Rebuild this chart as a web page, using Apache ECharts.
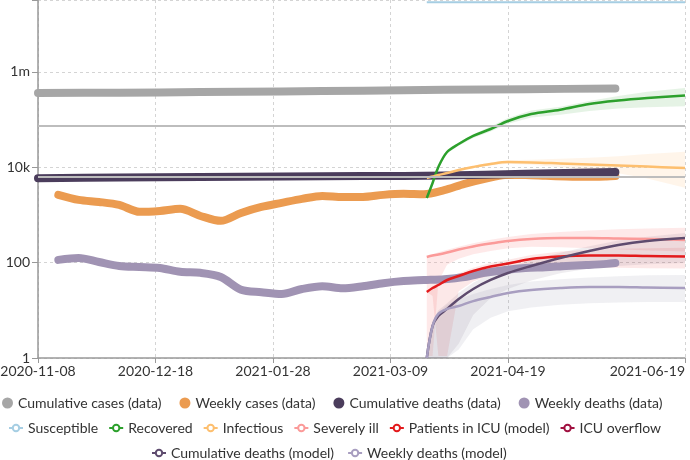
<!DOCTYPE html>
<html><head><meta charset="utf-8">
<script src="https://cdn.jsdelivr.net/npm/echarts@6/dist/echarts.min.js"></script>
<style>html,body{margin:0;padding:0;background:#fff}#c{width:690px;height:460px}</style>
</head><body><div id="c"></div>
<script>
// ---------- data ----------
const xMin = '2020-11-08T00:00:00Z';
const xMax = '2021-06-19T00:00:00Z';
const xTickTimes = ['2020-11-08T00:00:00Z','2020-12-18T12:00:00Z','2021-01-28T00:00:00Z','2021-03-09T12:00:00Z','2021-04-19T00:00:00Z','2021-06-19T00:00:00Z'];
const yMin = 1, yMax = 3.2e7;

const cumDates = ['2020-11-08','2020-12-06','2021-01-03','2021-01-31','2021-02-28','2021-03-28','2021-04-25','2021-05-26'];
const cumulativeCases = [359000, 365000, 375000, 388000, 400000, 418000, 432000, 447000];
const cumulativeDeaths = [5900, 6050, 6200, 6350, 6500, 6700, 7300, 7900];

const weekDates = ['2020-11-15','2020-11-22','2020-11-29','2020-12-06','2020-12-13','2020-12-20','2020-12-27','2021-01-03','2021-01-10','2021-01-17','2021-01-24','2021-01-31','2021-02-07','2021-02-14','2021-02-21','2021-02-28','2021-03-07','2021-03-14','2021-03-21','2021-03-28','2021-04-04','2021-04-11','2021-04-18','2021-04-25','2021-05-02','2021-05-09','2021-05-16','2021-05-23','2021-05-26'];
const weeklyCases = [2630, 2060, 1870, 1620, 1160, 1210, 1340, 950, 750, 1100, 1470, 1790, 2170, 2500, 2380, 2380, 2630, 2760, 2700, 3300, 4470, 5680, 6900, 6900, 6600, 6400, 6300, 6400, 6500];
const weeklyDeaths = [114, 125, 103, 85, 81, 77, 64, 61, 50, 27, 24, 22, 28, 32, 29, 32, 37, 41, 43, 45, 50, 61, 70, 77, 80, 85, 89, 94, 98];

const refLines = [73000, 6350];

const modelDates = ['2021-03-22','2021-03-24','2021-03-26','2021-03-29','2021-04-02','2021-04-07','2021-04-13','2021-04-19','2021-04-27','2021-05-07','2021-05-17','2021-05-27','2021-06-06','2021-06-19'];
const susceptible = [28800000, 28800000, 28790000, 28780000, 28770000, 28750000, 28730000, 28710000, 28690000, 28670000, 28650000, 28630000, 28620000, 28600000];
const recovered   = [2261, 4666, 10100, 20800, 30600, 45100, 63200, 93100, 130000, 160000, 211000, 250000, 282000, 319000];
const recoveredLo = [2261, 4500, 9600, 19500, 28000, 41000, 56000, 81000, 110000, 125000, 150000, 170000, 180000, 190000];
const recoveredHi = [2261, 4850, 10600, 22000, 33000, 49000, 71000, 107000, 155000, 185000, 245000, 310000, 380000, 460000];
const infectious   = [5940, 6390, 6860, 7550, 8730, 10100, 11700, 12800, 12600, 12000, 11400, 10900, 10300, 9600];
const infectiousLo = [5940, 6300, 6700, 7300, 8400, 9600, 10900, 11800, 11200, 10000, 8700, 7500, 5800, 3700];
const infectiousHi = [5940, 6480, 7000, 7800, 9100, 10700, 12500, 14000, 14300, 15000, 15800, 17000, 18800, 21000];
const severelyIll   = [131, 141, 148, 163, 188, 218, 251, 284, 313, 328, 328, 320, 313, 298];
const severelyIllLo = [1.1, 1.1, 40, 90, 120, 150, 175, 200, 215, 210, 200, 190, 180, 170];
const severelyIllHi = [131, 150, 165, 185, 215, 255, 300, 345, 400, 440, 470, 500, 520, 540];
const icu   = [24.2, 29.3, 33.9, 43.2, 52.4, 66.7, 82.8, 95.8, 119, 134, 141, 141, 137, 134];
const icuLo = [24.2, 20, 1.1, 1.1, 25, 40, 55, 65, 75, 80, 80, 78, 76, 75];
const icuHi = [24.2, 32, 38, 49, 60, 78, 98, 115, 145, 170, 185, 195, 200, 205];
const icuOverflow = [];
const cumDeathsModel   = [1, 4.7, 7.6, 10.7, 17.3, 28, 43.2, 60.5, 84.9, 125, 175, 234, 284, 328];
const cumDeathsModelLo = [1, 1, 1, 1, 2, 8, 18, 28, 42, 60, 75, 85, 92, 98];
const cumDeathsModelHi = [1, 6, 10, 14, 23, 38, 58, 80, 112, 160, 220, 290, 350, 418];
const weeklyDeathsModel   = [1, 4.7, 8.4, 10.7, 12.3, 15.6, 19.0, 23.1, 26.7, 29.3, 30.7, 30.7, 30.0, 29.3];
const weeklyDeathsModelLo = [1, 1, 1, 1, 1.5, 4, 7, 9.5, 11.5, 13, 14, 14.5, 15, 15];
const weeklyDeathsModelHi = [1, 5, 9, 13, 17, 22, 28, 34, 40, 45, 49, 52, 54, 55];

const legendRow1 = ['Cumulative cases (data)','Weekly cases (data)','Cumulative deaths (data)','Weekly deaths (data)'];
const legendRow2 = ['Susceptible','Recovered','Infectious','Severely ill','Patients in ICU (model)','ICU overflow'];
const legendRow3 = ['Cumulative deaths (model)','Weekly deaths (model)'];

// ---------- helpers ----------
const T = s => Date.parse(s.length === 10 ? s + 'T00:00:00Z' : s);
const pairs = (dates, vals) => dates.map((d, i) => [T(d), vals[i]]);
const pad = n => (n < 10 ? '0' : '') + n;
const fmtDate = v => { const d = new Date(v); return d.getUTCFullYear() + '-' + pad(d.getUTCMonth() + 1) + '-' + pad(d.getUTCDate()); };
const fmtY = v => { const e = Math.log10(v), r = Math.round(e); if (Math.abs(e - r) > 1e-6) return ''; if (r >= 6) return Math.pow(10, r - 6) + 'm'; if (r >= 3) return Math.pow(10, r - 3) + 'k'; return String(Math.pow(10, r)); };
const FONT = 'Lato';

function band(lo, hi, color) {
  return {
    type: 'custom', name: '_band', silent: true, z: 1, clip: true,
    encode: { x: 0, y: [1, 2] },
    data: modelDates.map((d, i) => [T(d), lo[i], hi[i]]),
    renderItem(params, api) {
      if (params.dataIndex !== 0) return null;
      const pts = [];
      for (let i = 0; i < modelDates.length; i++) pts.push(api.coord([T(modelDates[i]), hi[i]]));
      for (let i = modelDates.length - 1; i >= 0; i--) pts.push(api.coord([T(modelDates[i]), lo[i]]));
      return { type: 'polygon', shape: { points: pts }, style: { fill: color } };
    }
  };
}
function dataLine(name, dates, vals, color, width) {
  return { type: 'line', name, data: pairs(dates, vals), showSymbol: false, symbol: 'circle', smooth: 0.3, z: 2,
    color, lineStyle: { width, color, cap: 'round', join: 'round' }, emphasis: { disabled: true } };
}
function modelLine(name, vals, color, width) {
  return { type: 'line', name, data: pairs(modelDates, vals), showSymbol: false, symbol: 'emptyCircle', smooth: 0.35, z: 3,
    color, lineStyle: { width: width || 2.5, color, join: 'round' }, emphasis: { disabled: true } };
}

const C = {
  cumCases: '#a6a6a6', weekCases: '#eb9b50', cumDeaths: '#4b3d5c', weekDeaths: '#a093b3',
  susc: '#a6cee3', rec: '#2ca02c', inf: '#fdbf6f', sev: '#fb9a99', icu: '#e31a1c', ovf: '#a01040',
  cdm: '#5e4b6e', wdm: '#a89ec0'
};

const legendCommon = { orient: 'horizontal', padding: 0, textStyle: { fontFamily: FONT, fontSize: 14, color: '#333' }, selectedMode: true };

const option = {
  animation: false,
  grid: { left: 38, right: 5, top: 0, bottom: 102, containLabel: false, outerBoundsMode: 'none' },
  legend: [
    Object.assign({}, legendCommon, { data: legendRow1.map(n => ({ name: n, icon: 'circle' })), left: 2, top: 396, itemWidth: 11, itemHeight: 11, itemGap: 18 }),
    Object.assign({}, legendCommon, { data: legendRow2, left: 8, top: 421, itemWidth: 14, itemHeight: 8, itemGap: 10 }),
    Object.assign({}, legendCommon, { data: legendRow3, left: 151, top: 446, itemWidth: 14, itemHeight: 8, itemGap: 13 })
  ],
  xAxis: {
    type: 'value', min: T(xMin), max: T(xMax),
    axisLine: { lineStyle: { color: '#999', width: 1.5 } },
    axisTick: { customValues: xTickTimes.map(T), length: 5, lineStyle: { color: '#999' } },
    axisLabel: { customValues: xTickTimes.map(T), formatter: fmtDate, fontFamily: FONT, fontSize: 14, color: '#333', margin: 6, alignMaxLabel: 'right' },
    splitLine: { show: true, lineStyle: { type: [3, 3], color: '#d4d4d4' } }
  },
  yAxis: {
    type: 'log', logBase: 100, min: yMin, max: yMax,
    axisLine: { show: true, lineStyle: { color: '#999', width: 1.5 } },
    axisTick: { show: true, length: 6, lineStyle: { color: '#999' } },
    axisLabel: { formatter: fmtY, fontFamily: FONT, fontSize: 14, color: '#333', margin: 8 },
    splitLine: { show: true, lineStyle: { type: [3, 3], color: '#d4d4d4' } },
    minorTick: { show: false }
  },
  series: [
    band(recoveredLo, recoveredHi, 'rgba(44,160,44,0.12)'),
    band(infectiousLo, infectiousHi, 'rgba(253,191,111,0.15)'),
    band(severelyIllLo, severelyIllHi, 'rgba(251,154,153,0.22)'),
    band(icuLo, icuHi, 'rgba(227,26,28,0.10)'),
    band(cumDeathsModelLo, cumDeathsModelHi, 'rgba(94,75,110,0.10)'),
    band(weeklyDeathsModelLo, weeklyDeathsModelHi, 'rgba(140,140,165,0.13)'),
    dataLine('Cumulative cases (data)', cumDates, cumulativeCases, C.cumCases, 8),
    dataLine('Weekly cases (data)', weekDates, weeklyCases, C.weekCases, 8),
    dataLine('Cumulative deaths (data)', cumDates, cumulativeDeaths, C.cumDeaths, 8),
    dataLine('Weekly deaths (data)', weekDates, weeklyDeaths, C.weekDeaths, 8),
    { type: 'line', name: '_ref', data: [], z: 2, silent: true,
      markLine: { silent: true, symbol: 'none', label: { show: false }, animation: false,
        lineStyle: { color: '#bdbdbd', width: 2, type: 'solid' },
        data: refLines.map(v => ({ yAxis: v })) } },
    modelLine('Susceptible', susceptible, C.susc, 2),
    modelLine('Recovered', recovered, C.rec, 2.5),
    modelLine('Infectious', infectious, C.inf, 2.5),
    modelLine('Severely ill', severelyIll, C.sev, 2.5),
    modelLine('Patients in ICU (model)', icu, C.icu, 2.5),
    modelLine('ICU overflow', icuOverflow, C.ovf, 2.5),
    modelLine('Cumulative deaths (model)', cumDeathsModel, C.cdm, 2.5),
    modelLine('Weekly deaths (model)', weeklyDeathsModel, C.wdm, 2.5)
  ]
};
const chart = echarts.init(document.getElementById('c'), null, { renderer: 'canvas' });
chart.setOption(option);
</script></body></html>
